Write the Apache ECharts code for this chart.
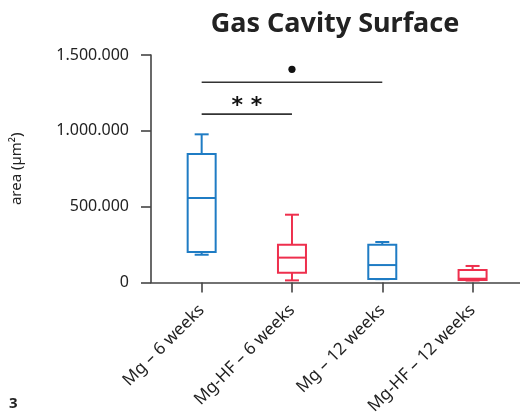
<!DOCTYPE html>
<html>
<head>
<meta charset="utf-8">
<script src="https://cdn.jsdelivr.net/npm/echarts@6/dist/echarts.min.js"></script>
<style>
  html, body { margin: 0; padding: 0; background: #fff; }
  #chart { width: 520px; height: 419px; }
</style>
</head>
<body>
<div id="chart"></div>
<script>
// Groups on the x axis
const categories = ['Mg – 6 weeks', 'Mg-HF – 6 weeks', 'Mg – 12 weeks', 'Mg-HF – 12 weeks'];
// Five-number summaries per group (µm²)
const whiskerLow = [183000, 14000, 22000, 13000];
const quartile1  = [201000, 65000, 23000, 16000];
const medians    = [557000, 164000, 115000, 25000];
const quartile3  = [847000, 249000, 249000, 82000];
const whiskerHigh = [977000, 447000, 267000, 109000];
// Y axis ticks
const yTicks = [0, 500000, 1000000, 1500000];
// Significance brackets between groups
const sigFrom  = [0, 0];
const sigTo    = [1, 2];
const sigLevel = [1110000, 1320000];
const sigLabel = ['* *', '•'];

const blue = '#1f7cc4';
const red = '#ee2f4d';
const groupColors = [blue, red, blue, red];
const axisColor = '#444';
const font = '"Noto Sans", sans-serif';

const boxData = categories.map((c, i) => [i, whiskerLow[i], quartile1[i], medians[i], quartile3[i], whiskerHigh[i]]);
const sigData = sigFrom.map((f, i) => [f, sigTo[i], sigLevel[i], i]);

function fmtThousands(v) {
  return String(v).replace(/\B(?=(\d{3})+(?!\d))/g, '.');
}

function renderBox(params, api) {
  const x = api.value(0);
  const lo = api.coord([x, api.value(1)]);
  const q1 = api.coord([x, api.value(2)]);
  const md = api.coord([x, api.value(3)]);
  const q3 = api.coord([x, api.value(4)]);
  const hi = api.coord([x, api.value(5)]);
  const bw = api.size([1, 0])[0] * 0.31;
  const hw = bw / 2, cw = bw / 4;
  const cx = lo[0];
  const style = { stroke: groupColors[params.dataIndex], fill: 'transparent', lineWidth: 2 };
  const ln = (x1, y1, x2, y2) => ({ type: 'line', shape: { x1, y1, x2, y2 }, style });
  return {
    type: 'group',
    children: [
      ln(cx, q3[1], cx, hi[1]),
      ln(cx - cw, hi[1], cx + cw, hi[1]),
      ln(cx, q1[1], cx, lo[1]),
      ln(cx - cw, lo[1], cx + cw, lo[1]),
      { type: 'rect', shape: { x: cx - hw, y: q3[1], width: bw, height: q1[1] - q3[1] }, style },
      ln(cx - hw, md[1], cx + hw, md[1])
    ]
  };
}

function renderSig(params, api) {
  const a = api.coord([api.value(0), api.value(2)]);
  const b = api.coord([api.value(1), api.value(2)]);
  const label = sigLabel[api.value(3)];
  const mx = (a[0] + b[0]) / 2;
  const children = [
    { type: 'line', shape: { x1: a[0], y1: a[1], x2: b[0], y2: b[1] }, style: { stroke: '#333', lineWidth: 1.6 } }
  ];
  if (label === '•') {
    children.push({ type: 'circle', shape: { cx: mx, cy: a[1] - 13, r: 3.6 }, style: { fill: '#111' } });
  } else {
    children.push({
      type: 'text',
      style: { text: label, x: mx, y: a[1] + 3, align: 'center', verticalAlign: 'bottom',
               font: 'bold 22px "DejaVu Sans", sans-serif', fill: '#111' }
    });
  }
  return { type: 'group', children };
}

const chart = echarts.init(document.getElementById('chart'), null, { renderer: 'canvas' });
chart.setOption({
  animation: false,
  backgroundColor: '#fff',
  title: {
    text: 'Gas Cavity Surface',
    left: 330, top: 6, textAlign: 'center',
    textStyle: { fontFamily: font, fontWeight: 'bold', fontSize: 27, color: '#222' }
  },
  graphic: [{
    type: 'text', left: 9, top: 396,
    style: { text: '3', font: 'bold 15px ' + font, fill: '#222' }
  }],
  grid: { left: 151, right: 0, top: 55, bottom: 136.5 },
  xAxis: {
    type: 'value',
    min: -0.561, max: 3.525,
    splitLine: { show: false },
    axisLine: { show: true, onZero: false, lineStyle: { color: axisColor, width: 1.6 } },
    axisTick: { show: true, customValues: [0, 1, 2, 3], length: 10, lineStyle: { color: axisColor, width: 1.6 } },
    axisLabel: {
      customValues: [0, 1, 2, 3],
      rotate: 45, margin: 25,
      fontFamily: font, fontSize: 17, color: '#222',
      formatter: v => categories[Math.round(v)]
    }
  },
  yAxis: {
    type: 'value',
    min: yTicks[0], max: yTicks[yTicks.length - 1], interval: yTicks[1] - yTicks[0],
    name: 'area (µm²)', nameLocation: 'middle', nameGap: 127, nameRotate: 90,
    nameTextStyle: { fontFamily: font, fontSize: 15, color: '#222' },
    splitLine: { show: false },
    axisLine: { show: true, onZero: false, lineStyle: { color: axisColor, width: 1.6 } },
    axisTick: { show: true, length: 10, lineStyle: { color: axisColor, width: 1.6 } },
    axisLabel: { margin: 22, fontFamily: font, fontSize: 16, color: '#222', formatter: fmtThousands }
  },
  series: [
    { type: 'custom', renderItem: renderBox, data: boxData, clip: false,
      encode: { x: 0, y: [1, 2, 3, 4, 5] } },
    { type: 'custom', renderItem: renderSig, data: sigData, clip: false,
      encode: { x: [0, 1], y: 2 } }
  ]
});
</script>
</body>
</html>
